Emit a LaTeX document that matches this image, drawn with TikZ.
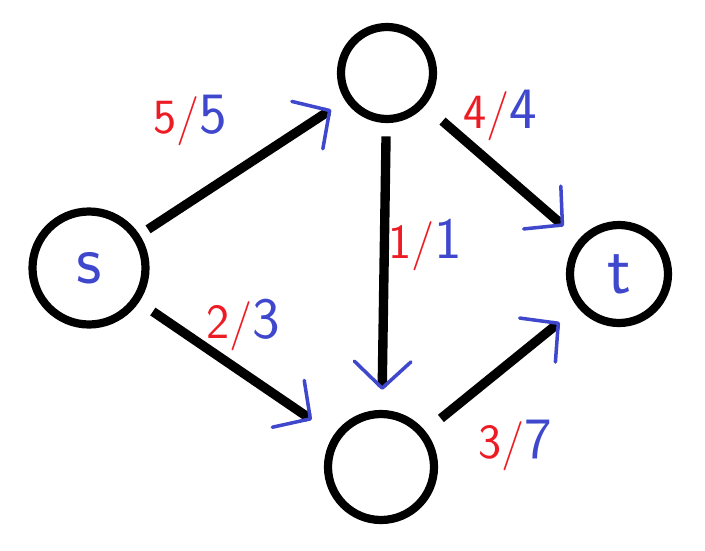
\documentclass[tikz,border=0pt]{standalone}
\usepackage{fontspec}
\usepackage{tikz}
\usetikzlibrary{arrows.meta}
\definecolor{flowred}{HTML}{ED1C24}
\definecolor{flowblue}{HTML}{3F48CC}
\tikzset{
  vertex/.style={circle, draw=black, line width=7pt, inner sep=0pt, text=flowblue, font=\sffamily\fontsize{60}{60}\selectfont},
  arc/.style={line width=8pt, -{Straight Barb[color=flowblue, line width=3pt, length=8mm, width=17mm, round]}},
  flowcap/.style={inner sep=0pt, font=\sffamily\fontsize{50}{50}\selectfont}
}
\newcommand{\flowlbl}[2]{\textcolor{flowred}{\fontsize{42}{42}\selectfont #1/}\textcolor{flowblue}{#2}}

\begin{document}
\begin{tikzpicture}[x=0.03cm, y=-0.03cm]
  \useasboundingbox (0,0) rectangle (705,550);
  \node[vertex, minimum size=3.39cm] (s) at (89,268) {s};
  \node[vertex, minimum size=2.76cm] (a) at (387,73) {};
  \node[vertex, minimum size=3.18cm] (b) at (381,467) {};
  \node[vertex, minimum size=2.94cm] (t) at (619,274) {t};
  \draw[arc, shorten <=3mm, shorten >=5mm] (s) -- (a);
  \draw[arc, shorten <=5mm, shorten >=8mm] (s) -- (b);
  \draw[arc, shorten <=4mm, shorten >=6mm] (a) -- (b);
  \draw[arc, shorten <=7mm, shorten >=6mm] (a) -- (t);
  \draw[arc, shorten <=6mm, shorten >=7mm] (b) -- (t);
  \node[flowcap] (fsa) at (190,120) {\flowlbl{5}{5}};
  \node[flowcap] (fsb) at (243,325) {\flowlbl{2}{3}};
  \node[flowcap] (fab) at (425,245) {\flowlbl{1}{1}};
  \node[flowcap] (fat) at (500,115) {\flowlbl{4}{4}};
  \node[flowcap] (fbt) at (515,445) {\flowlbl{3}{7}};
\end{tikzpicture}
\end{document}
